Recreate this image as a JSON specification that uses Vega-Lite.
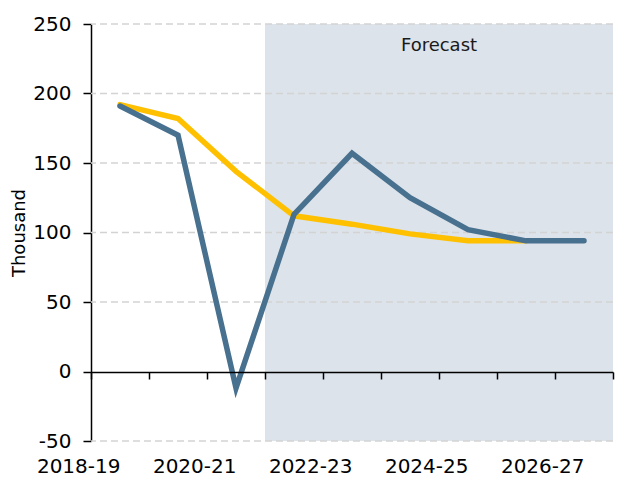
{
  "$schema": "https://vega.github.io/schema/vega-lite/v6.json",
  "width": 522,
  "height": 417,
  "autosize": {"type": "none"},
  "padding": {"left": 91, "top": 24, "right": 15, "bottom": 36},
  "config": {
    "view": {"stroke": null},
    "font": "DejaVu Sans",
    "axis": {"labelFont": "DejaVu Sans", "titleFont": "DejaVu Sans"}
  },
  "datasets": {
    "series": [
      {"year": "2018-19", "series": "Yellow", "value": 192},
      {"year": "2019-20", "series": "Yellow", "value": 182},
      {"year": "2020-21", "series": "Yellow", "value": 144},
      {"year": "2021-22", "series": "Yellow", "value": 112},
      {"year": "2022-23", "series": "Yellow", "value": 106},
      {"year": "2023-24", "series": "Yellow", "value": 99},
      {"year": "2024-25", "series": "Yellow", "value": 94},
      {"year": "2025-26", "series": "Yellow", "value": 94},
      {"year": "2018-19", "series": "Blue", "value": 191},
      {"year": "2019-20", "series": "Blue", "value": 170},
      {"year": "2020-21", "series": "Blue", "value": -12},
      {"year": "2021-22", "series": "Blue", "value": 113},
      {"year": "2022-23", "series": "Blue", "value": 157},
      {"year": "2023-24", "series": "Blue", "value": 125},
      {"year": "2024-25", "series": "Blue", "value": 102},
      {"year": "2025-26", "series": "Blue", "value": 94},
      {"year": "2026-27", "series": "Blue", "value": 94}
    ],
    "forecast": [
      {"year": "2021-22"}, {"year": "2022-23"}, {"year": "2023-24"},
      {"year": "2024-25"}, {"year": "2025-26"}, {"year": "2026-27"}
    ],
    "grid": [
      {"value": -50}, {"value": 50}, {"value": 100},
      {"value": 150}, {"value": 200}, {"value": 250}
    ],
    "note": [
      {"label": "Forecast"}
    ]
  },
  "layer": [
    {
      "data": {"name": "forecast"},
      "mark": {"type": "rect", "color": "#dce3ea", "strokeWidth": 0},
      "encoding": {
        "x": {"field": "year", "type": "nominal",
              "scale": {"domain": ["2018-19","2019-20","2020-21","2021-22","2022-23","2023-24","2024-25","2025-26","2026-27"], "paddingInner": 0, "paddingOuter": 0}},
        "y": {"datum": -50, "type": "quantitative"},
        "y2": {"datum": 250}
      }
    },
    {
      "data": {"name": "grid"},
      "mark": {"type": "rule", "color": "#d3d3d3", "strokeWidth": 1.5, "strokeDash": [7, 4]},
      "encoding": {
        "y": {"field": "value", "type": "quantitative", "title": "Thousand"}
      }
    },
    {
      "data": {"name": "series"},
      "transform": [{"filter": "datum.series === 'Yellow'"}],
      "mark": {"type": "line", "color": "#ffc000", "strokeWidth": 5.5, "strokeCap": "round"},
      "encoding": {
        "x": {"field": "year", "type": "nominal", "title": null},
        "y": {"field": "value", "type": "quantitative", "title": "Thousand"}
      }
    },
    {
      "data": {"name": "series"},
      "transform": [{"filter": "datum.series === 'Blue'"}],
      "mark": {"type": "line", "color": "#48708f", "strokeWidth": 5.5, "strokeCap": "round"},
      "encoding": {
        "x": {"field": "year", "type": "nominal", "title": null,
              "axis": {
                "orient": "bottom", "offset": -69, "tickBand": "extent",
                "domainColor": "#000", "domainWidth": 1.5,
                "tickColor": "#000", "tickWidth": 1.5, "tickSize": 7,
                "labelFontSize": 20, "labelColor": "#000", "labelPadding": 87,
                "labelAngle": 0, "labelOverlap": false, "grid": false,
                "labelExpr": "indexof(['2018-19','2020-21','2022-23','2024-25','2026-27'], datum.value) >= 0 ? datum.label : ''"
              }},
        "y": {"field": "value", "type": "quantitative", "title": "Thousand",
              "scale": {"domain": [-50, 250], "nice": false, "zero": false},
              "axis": {
                "values": [-50, 0, 50, 100, 150, 200, 250],
                "labelExpr": "'' + datum.value",
                "grid": false,
                "domainColor": "#000", "domainWidth": 1.5,
                "tickColor": "#000", "tickWidth": 1.5, "tickSize": 8,
                "labelFontSize": 20, "labelColor": "#000", "labelPadding": 12,
                "titleFontSize": 18, "titleFontWeight": "normal", "titleColor": "#000",
                "titlePadding": 4
              }}
      }
    },
    {
      "data": {"name": "note"},
      "mark": {"type": "text", "fontSize": 18, "color": "#1a1a1a", "align": "center", "baseline": "middle", "font": "DejaVu Sans"},
      "encoding": {
        "text": {"field": "label"},
        "x": {"datum": "2024-25", "bandPosition": 0},
        "y": {"datum": 234}
      }
    }
  ]
}
